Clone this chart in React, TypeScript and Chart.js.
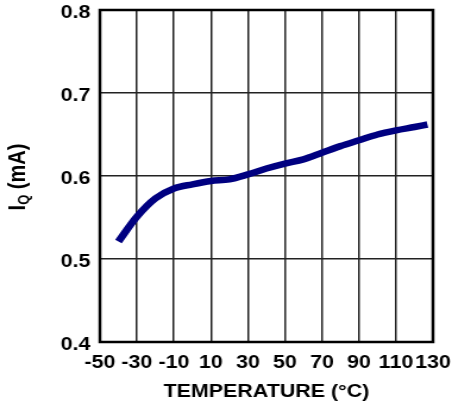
import React, { useEffect, useRef } from "react";
import { Chart, registerables } from "chart.js";

Chart.register(...registerables);

// Data
const temperatures = [-40, -30, -20, -10, 0, 10, 20, 30, 40, 50, 60, 70, 80, 90, 100, 110, 120, 127];
const iqValues = [0.521, 0.551, 0.573, 0.585, 0.59, 0.594, 0.596, 0.602, 0.609, 0.615, 0.62, 0.628, 0.636, 0.643, 0.65, 0.655, 0.659, 0.662];
const xTickLabels = ["-50", "-30", "-10", "10", "30", "50", "70", "90", "110", "130"];
const yTickLabels = ["0.4", "0.5", "0.6", "0.7", "0.8"];
const xTitle = "TEMPERATURE (°C)";
const yTitleMain = "I";
const yTitleSub = "Q";
const yTitleRest = " (mA)";

const X_MIN = -50;
const X_MAX = 130;
const X_STEP = 20;
const Y_MIN = 0.4;
const Y_MAX = 0.8;
const Y_STEP = 0.1;

// The reference looks horizontally stretched; render narrower and stretch by CSS.
const STRETCH = 1.19;
const OUT_W = 452;
const OUT_H = 407;
const LOG_W = Math.round(OUT_W / STRETCH);

const FAMILY = "'Liberation Sans', Arial, Helvetica, sans-serif";

const framePlugin = {
  id: "frameAndYTitle",
  afterDraw(chart: any) {
    const { ctx, chartArea } = chart;
    ctx.save();
    ctx.strokeStyle = "#000";
    ctx.lineWidth = 2.5;
    ctx.strokeRect(chartArea.left, chartArea.top, chartArea.right - chartArea.left, chartArea.bottom - chartArea.top);
    ctx.restore();

    // Y axis title with subscript
    ctx.save();
    const cx = 14;
    const cy = (chartArea.top + chartArea.bottom) / 2 + 1;
    ctx.translate(cx, cy);
    ctx.rotate(-Math.PI / 2);
    ctx.fillStyle = "#000";
    ctx.textBaseline = "alphabetic";
    const mainFont = `bold 20px ${FAMILY}`;
    const subFont = `bold 13px ${FAMILY}`;
    ctx.font = mainFont;
    const w1 = ctx.measureText(yTitleMain).width;
    const w3 = ctx.measureText(yTitleRest).width;
    ctx.font = subFont;
    const w2 = ctx.measureText(yTitleSub).width;
    const total = w1 + w2 + w3;
    let x = -total / 2;
    const base = 7;
    ctx.font = mainFont;
    ctx.fillText(yTitleMain, x, base);
    x += w1;
    ctx.font = subFont;
    ctx.fillText(yTitleSub, x, base + 3);
    x += w2;
    ctx.font = mainFont;
    ctx.fillText(yTitleRest, x, base);
    ctx.restore();
  },
};

export default function App() {
  const ref = useRef<HTMLCanvasElement | null>(null);

  useEffect(() => {
    if (!ref.current) return;
    const points = temperatures.map((t, i) => ({ x: t, y: iqValues[i] }));
    const tickFont = { family: FAMILY, size: 18, weight: "bold" as const };
    const chart = new Chart(ref.current, {
      type: "line",
      data: {
        datasets: [
          {
            data: points,
            borderColor: "#000080",
            borderWidth: 6.5,
            borderCapStyle: "butt",
            borderJoinStyle: "round",
            cubicInterpolationMode: "monotone",
            pointRadius: 0,
            fill: false,
          },
        ],
      },
      options: {
        animation: false,
        responsive: false,
        layout: { padding: { top: 10, right: 16, left: 0, bottom: 0 } },
        plugins: { legend: { display: false }, tooltip: { enabled: false } },
        scales: {
          x: {
            type: "linear",
            min: X_MIN,
            max: X_MAX,
            afterFit: (s: any) => {
              s.height = 65;
              s.paddingLeft = 0;
              s.paddingRight = 0;
            },
            ticks: {
              stepSize: X_STEP,
              autoSkip: false,
              maxRotation: 0,
              minRotation: 0,
              padding: 10,
              color: "#000",
              font: tickFont,
              callback: (v: any) => {
                const i = Math.round((Number(v) - X_MIN) / X_STEP);
                return xTickLabels[i] ?? "";
              },
            },
            grid: { color: "#222", lineWidth: 1.5, drawTicks: false },
            border: { display: false },
            title: {
              display: true,
              text: xTitle,
              color: "#000",
              font: { family: FAMILY, size: 18, weight: "bold" },
              padding: { top: 0, bottom: 4 },
            },
          },
          y: {
            type: "linear",
            min: Y_MIN,
            max: Y_MAX,
            afterFit: (s: any) => {
              s.width = 84;
              s.paddingTop = 0;
              s.paddingBottom = 0;
            },
            ticks: {
              stepSize: Y_STEP,
              padding: 8,
              labelOffset: 3,
              color: "#000",
              font: tickFont,
              callback: (v: any) => {
                const i = Math.round((Number(v) - Y_MIN) / Y_STEP);
                return yTickLabels[i] ?? "";
              },
            },
            grid: { color: "#222", lineWidth: 1.5, drawTicks: false },
            border: { display: false },
          },
        },
      },
      plugins: [framePlugin],
    } as any);
    return () => chart.destroy();
  }, []);

  return (
    <div style={{ position: "fixed", left: 0, top: 0, width: OUT_W, height: OUT_H, background: "#fff" }}>
      <canvas
        ref={ref}
        width={LOG_W}
        height={OUT_H}
        style={{ display: "block", width: `${OUT_W}px`, height: `${OUT_H}px` }}
      />
    </div>
  );
}
